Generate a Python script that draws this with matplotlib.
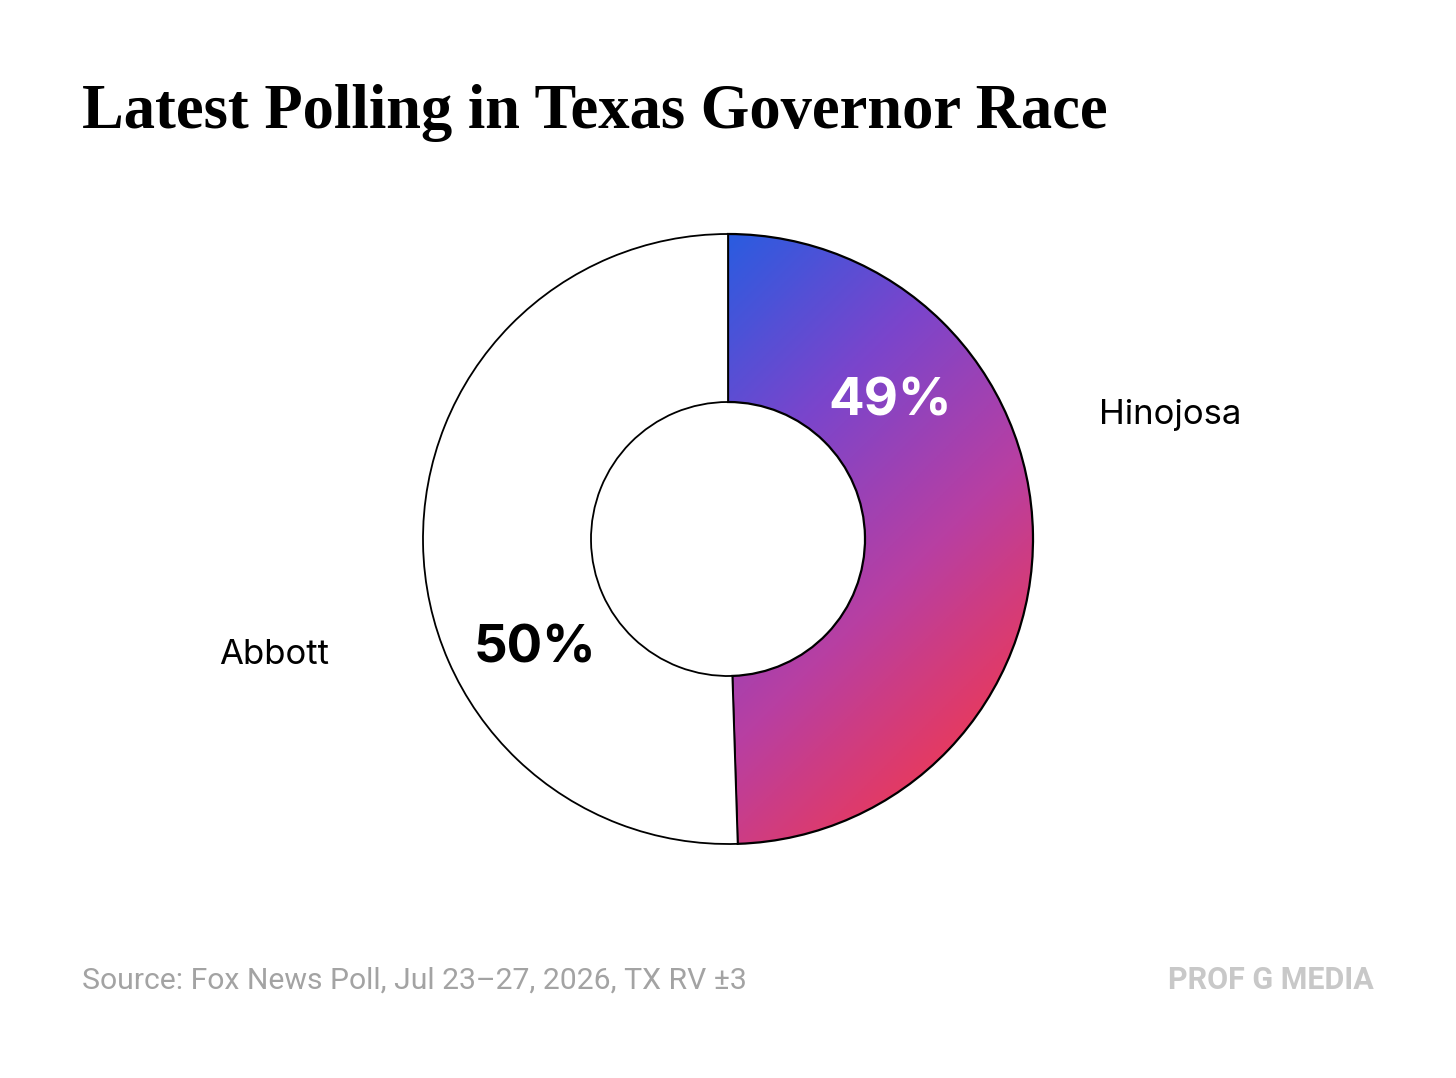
import numpy as np
import matplotlib
matplotlib.use('Agg')
import matplotlib.pyplot as plt
from matplotlib.colors import LinearSegmentedColormap

# poll numbers
candidates = ["Hinojosa", "Abbott"]
shares = [49, 50]
pct_labels = ["49%", "50%"]

title = "Latest Polling in Texas Governor Race"
source = "Source: Fox News Poll, Jul 23\u201327, 2026, TX RV \u00b13"
brand = "PROF G MEDIA"

W, H = 1456, 1078
fig = plt.figure(figsize=(W / 100, H / 100), dpi=100, facecolor='white')

# donut axes: center (728, 539) px, outer radius 305 px
cx, cy, R = 728, 539, 305
ax = fig.add_axes([(cx - R) / W, (H - cy - R) / H, 2 * R / W, 2 * R / H])

wedges, _ = ax.pie(shares, startangle=90, counterclock=False, radius=1,
                   colors=['white', 'white'],
                   wedgeprops=dict(width=1 - 137 / R, edgecolor='black', linewidth=1.3))
ax.set_aspect('equal')
ax.axis('off')

# gradient fill for Hinojosa slice (blue top-left -> red bottom-right)
cmap = LinearSegmentedColormap.from_list('grad', ['#2a5ce0', '#7a45cc', '#b83fa2', '#ec3957'])
n = 400
xs = np.linspace(-1, 1, n)
ys = np.linspace(1, -1, n)
gx, gy = np.meshgrid(xs, ys)
t = (gx - gy)
t = np.clip((t - (-1.0)) / (1.55 - (-1.0)), 0, 1)
im = ax.imshow(cmap(t), extent=(-1, 1, -1, 1), zorder=0.5)
im.set_clip_path(wedges[0])
wedges[0].set_facecolor('none')
wedges[0].set_linewidth(1.6)
wedges[0].set_zorder(1)
ax.set_xlim(-1, 1)
ax.set_ylim(-1, 1)

lab_font = ['Inter', 'DejaVu Sans']
ax.text(0.53, 0.45, pct_labels[0], color='white', fontsize=38, fontweight='bold',
        family=lab_font, ha='center', va='center', zorder=3)
ax.text(-0.633, -0.36, pct_labels[1], color='black', fontsize=38, fontweight='bold',
        family=lab_font, ha='center', va='center', zorder=3)
ax.text(1.449, 0.405, candidates[0], color='black', fontsize=25,
        family=lab_font, ha='center', va='center', clip_on=False)
ax.text(-1.489, -0.38, candidates[1], color='black', fontsize=25,
        family=lab_font, ha='center', va='center', clip_on=False)

fig.text(82 / W, 1 - 128 / H, title, fontsize=45, fontweight='bold',
         family=['Liberation Serif', 'DejaVu Serif'], ha='left', va='baseline')
fig.text(82 / W, 1 - 989 / H, source, fontsize=21.7, color='#a3a3a3',
         family=['Liberation Sans Narrow', 'Roboto', 'DejaVu Sans'], ha='left', va='baseline')
fig.text(1374 / W, 1 - 989 / H, brand, fontsize=22, color='#c8c8c8', fontweight='bold',
         family=['Liberation Sans Narrow', 'Roboto', 'DejaVu Sans'], ha='right', va='baseline')

fig.savefig('out.png', dpi=100, facecolor='white')
